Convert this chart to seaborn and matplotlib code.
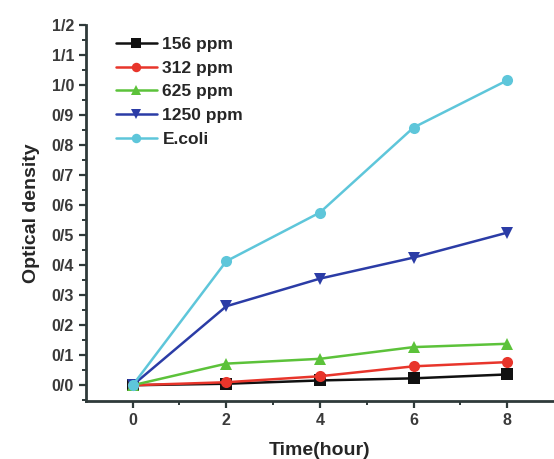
import pandas as pd
import numpy as np
import seaborn as sns
import matplotlib.pyplot as plt
from matplotlib.ticker import MultipleLocator, FixedLocator

# time points (hours) and optical density readings
hours = [0, 2, 4, 6, 8]
od_156 = [0.0, 0.005, 0.016, 0.023, 0.036]
od_312 = [0.0, 0.010, 0.030, 0.063, 0.077]
od_625 = [0.0, 0.072, 0.088, 0.127, 0.138]
od_1250 = [0.0, 0.263, 0.355, 0.425, 0.508]
od_ecoli = [0.0, 0.413, 0.575, 0.858, 1.015]

groups = ["156 ppm", "312 ppm", "625 ppm", "1250 ppm", "E.coli"]
y_ticks = [0.0, 0.1, 0.2, 0.3, 0.4, 0.5, 0.6, 0.7, 0.8, 0.9, 1.0, 1.1, 1.2]
y_tick_labels = ["0/0", "0/1", "0/2", "0/3", "0/4", "0/5", "0/6",
                 "0/7", "0/8", "0/9", "1/0", "1/1", "1/2"]

series = [od_156, od_312, od_625, od_1250, od_ecoli]
df = pd.DataFrame({
    "time": hours * len(groups),
    "od": np.concatenate(series),
    "group": np.repeat(groups, len(hours)),
})

colors = ["#111111", "#e8352b", "#5cc23a", "#2b3ca6", "#5ec6da"]
markers = ["s", "o", "^", "v", "o"]

sns.set_style("ticks")
plt.rcParams['font.family'] = ['Liberation Sans', 'DejaVu Sans']

fig = plt.figure(figsize=(5.54, 4.59), dpi=100)
ax = fig.add_axes([0.155, 0.126, 0.845, 0.82])

sns.lineplot(data=df, x="time", y="od", hue="group", style="group",
             hue_order=groups, style_order=groups,
             palette=colors, markers=markers, dashes=False,
             markersize=8, markeredgewidth=0, linewidth=1.8, ax=ax)

ax.set_xlim(-1, 9)
ax.set_ylim(-0.053, 1.2)
ax.set_xticks([0, 2, 4, 6, 8])
ax.xaxis.set_minor_locator(FixedLocator([1, 3, 5, 7]))
ax.yaxis.set_major_locator(FixedLocator(y_ticks))
ax.set_yticklabels(y_tick_labels)
ax.yaxis.set_minor_locator(MultipleLocator(0.05))

for s in ["top", "right"]:
    ax.spines[s].set_visible(False)
for s in ["left", "bottom"]:
    ax.spines[s].set_linewidth(2)
    ax.spines[s].set_color("#2f3a3a")

ax.tick_params(which="major", direction="out", length=5, width=1.6,
               color="#2f3a3a", labelsize=11.5, labelcolor="#3a3a3a")
ax.tick_params(which="minor", direction="out", length=3, width=1.4,
               color="#2f3a3a")
for lab in ax.get_xticklabels() + ax.get_yticklabels():
    lab.set_fontweight("bold")

ax.set_xlabel("Time(hour)", fontsize=14, fontweight="bold", labelpad=10)
ax.set_ylabel("Optical density", fontsize=14, fontweight="bold", labelpad=8)

leg = ax.legend(loc="upper left", bbox_to_anchor=(0.03, 1.01), frameon=False,
                fontsize=12.5, handlelength=2.4, handletextpad=0.3,
                labelspacing=0.5, markerscale=0.85)
for t in leg.get_texts():
    t.set_fontweight("bold")

fig.savefig("out.png", dpi=100)
